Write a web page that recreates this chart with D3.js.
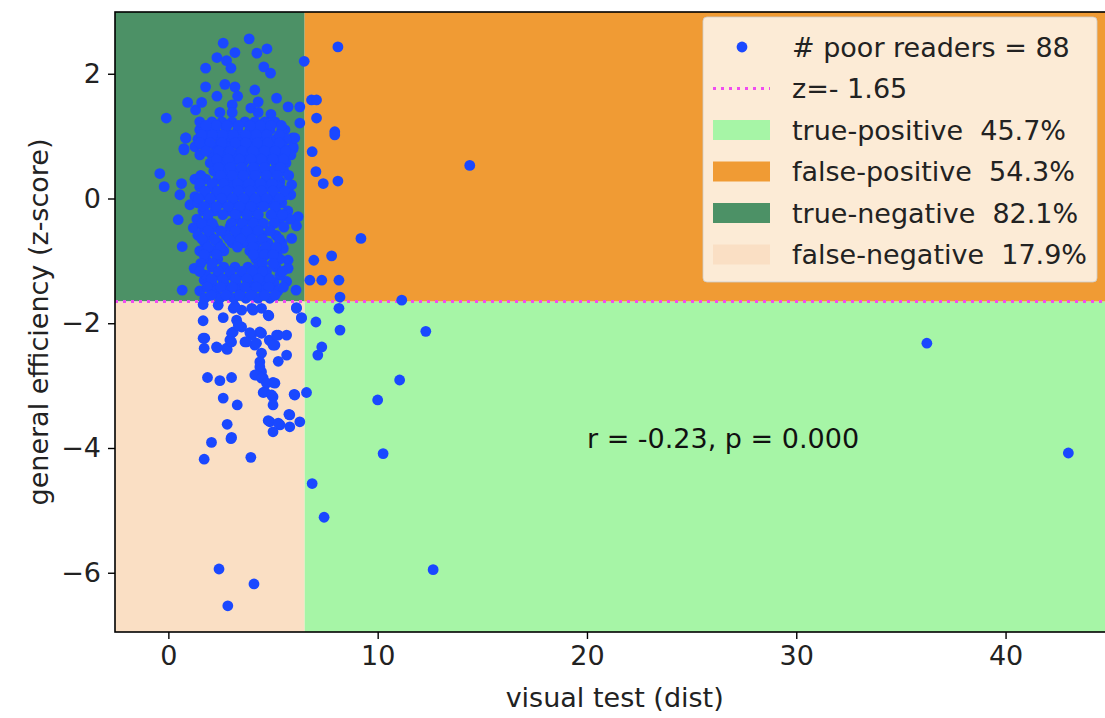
<!DOCTYPE html>
<html><head><meta charset="utf-8">
<script src="https://cdn.jsdelivr.net/npm/d3@7"></script>
<style>body{margin:0;background:#fff}text{font-family:"DejaVu Sans",sans-serif;white-space:pre}</style>
</head><body><svg id="c" width="1105" height="718"></svg>
<script>
// ---- data ----
const xTicks = [0, 10, 20, 30, 40];
const yTicks = [-6, -4, -2, 0, 2];
const xDomain = [-2.55, 45.2];
const yDomain = [-6.95, 2.99];
const cutX = 6.5;          // visual test cut-off
const cutZ = -1.65;        // z threshold
const legendLabels = ["# poor readers = 88", "z=- 1.65", "true-positive  45.7%", "false-positive  54.3%", "true-negative  82.1%", "false-negative  17.9%"];
const regionNames = ["true-positive", "false-positive", "true-negative", "false-negative"];
const statText = "r = -0.23, p = 0.000";
const statPos = [20, -4];
// sparse points (x = visual test, y = z-score)
const pointsX = [
 2.62,3.86,3.18,4.71,4.23,2.32,2.78,2.99,1.78,4.56,4.88,6.49,1.78,2.70,3.18,2.32,3.31,4.13,4.29,5.17,
 0.92,1.30,1.59,2.46,3.05,3.05,3.94,4.29,5.72,6.28,4.90,-0.10,6.84,0.84,6.28,5.93,5.96,0.74,1.50,1.98,
 0.82,0.75,-0.41,-0.20,0.63,0.55,1.27,1.03,5.17,5.33,5.89,5.85,6.04,5.96,5.57,
 0.47,1.19,0.66,1.23,0.66,1.71,6.20,6.12,5.89,5.49,5.17,5.72,5.72,5.65,4.61,4.69,4.29,6.10,
 1.66,1.66,1.66,1.71,2.30,2.62,2.38,2.78,2.94,3.10,3.10,3.50,3.50,3.98,3.66,3.98,4.37,4.13,4.45,4.37,4.45,4.77,4.93,5.09,5.25,5.65,5.65,5.25,6.12,6.36,4.45,
 1.74,2.33,2.81,3.02,3.02,3.26,3.34,4.05,3.18,4.80,4.45,3.89,3.74,4.21,4.82,5.17,5.00,4.37,4.21,4.53,5.00,4.61,5.00,5.00,
 1.87,2.46,3.02,2.62,3.29,2.81,3.02,2.06,6.04,6.28,5.80,5.80,5.33,4.85,5.00,6.36,6.12,4.13,4.45,4.69,5.09,4.53,4.93,6.01,4.77,5.25,5.76,2.99,1.71,3.94,
 2.42,4.09,2.84,
 8.10,7.08,7.08,7.95,7.95,6.87,7.05,7.40,8.10,6.95,7.80,6.76,7.33,8.15,8.20,14.40,9.20,11.15,
 7.05,8.15,8.20,7.33,7.14,6.60,6.87,7.44,10.26,10.00,11.05,12.30,12.65,36.24,43.00];
const pointsY = [
 2.49,2.56,2.34,2.40,2.33,2.26,2.21,2.09,2.09,2.11,2.01,2.20,1.79,1.83,1.79,1.64,1.64,1.74,1.55,1.61,
 1.54,1.42,1.54,1.38,1.50,1.38,1.45,1.38,1.47,1.47,1.35,1.29,1.58,0.97,1.21,0.97,0.83,0.80,1.10,1.02,
 0.97,0.78,0.40,0.19,0.24,0.06,0.03,-0.10,0.48,0.27,0.22,0.06,0.97,0.80,1.10,
 -0.34,-0.47,-0.77,-1.12,-1.47,-1.31,-0.29,-0.44,-0.64,-0.80,-0.88,-0.99,-1.12,-1.33,-0.91,-1.17,-1.33,-1.47,
 -1.70,-1.96,-2.24,-2.40,-2.38,-1.91,-1.71,-2.40,-2.27,-1.76,-2.14,-1.79,-2.06,-1.76,-2.30,-2.19,-2.14,-2.35,-2.48,-2.62,-2.78,-1.87,-2.30,-2.35,-2.19,-2.19,-2.51,-2.61,-1.75,-1.91,-1.76,
 -2.24,-2.39,-2.42,-2.16,-2.30,-1.95,-2.03,-1.79,-1.73,-1.88,-2.16,-2.15,-2.30,-2.32,-2.27,-2.19,-2.35,-2.70,-2.83,-2.88,-2.95,-3.10,-3.18,-3.31,
 -2.87,-2.92,-2.87,-3.20,-3.31,-3.62,-3.83,-3.91,-3.15,-3.58,-3.47,-3.66,-3.63,-3.58,-3.74,-1.92,-1.76,-2.83,-2.88,-2.96,-2.96,-3.11,-3.15,-3.14,-3.56,-3.60,-3.46,-3.85,-4.18,-4.15,
 -5.94,-6.18,-6.53,
 2.43,1.58,1.29,1.07,1.02,0.75,0.43,0.24,0.28,-0.99,-0.92,-1.31,-1.31,-1.31,-1.58,0.53,-0.64,-1.63,
 -1.98,-1.76,-2.11,-2.38,-2.51,-3.11,-4.57,-5.11,-4.09,-3.23,-2.91,-2.13,-5.95,-2.32,-4.08];
// dense core of the cloud, read row by row (z-score, then visual-test values)
const coreRowsY = [1.23,1.10,0.95,0.83,0.70,0.57,0.44,0.31,0.18,0.06,-0.07,-0.20,-0.33,-0.46,-0.59,-0.71,-0.84,-0.97,-1.10,-1.23,-1.35,-1.48,-1.60,
 1.17,1.02,0.89,0.76,0.63,0.50,0.37,0.24,0.12,0.00,-0.13,-0.26,-0.40,-0.52,-0.65,-0.78,-0.90,-1.04,-1.17,-1.29,-1.42,-1.55];
const coreRowsX = [
 [1.50,2.08,2.56,3.04,3.66,4.13,4.61,5.09],
 [1.74,2.22,2.75,3.32,3.89,4.37,4.85,5.42],
 [1.41,1.89,2.46,2.94,3.51,4.08,4.56,5.14,5.62],
 [1.27,1.74,2.27,2.84,3.42,3.89,4.47,4.95,5.47],
 [1.50,2.08,2.65,3.22,3.70,4.28,4.75,5.33,5.86],
 [2.00,2.56,3.04,3.56,4.13,4.61,5.14,5.62],
 [2.17,2.75,3.32,3.89,4.37,4.95,5.52],
 [1.27,1.79,2.36,2.94,3.51,4.08,4.66,5.23],
 [1.50,2.08,3.04,3.61,4.18,4.75,5.33],
 [1.74,2.27,2.75,3.32,3.89,4.47,5.04,5.62],
 [1.41,1.98,2.56,3.13,3.70,4.28,4.85,5.42],
 [1.65,2.22,2.94,3.51,4.08,5.14,5.71],
 [1.36,1.89,3.22,3.80,4.28,5.33,5.81],
 [1.65,2.17,2.94,3.51,4.08,5.52],
 [1.41,1.98,2.75,3.32,3.89,4.47,5.14],
 [1.74,2.36,3.04,3.61,4.18,4.75,5.42],
 [1.50,2.08,2.65,3.89,4.47,4.85],
 [1.79,2.36,4.18,5.33],
 [2.08,2.65,3.18,3.80,4.28,5.14],
 [1.79,2.36,2.94,3.51,4.08,4.66,5.33],
 [2.08,2.65,3.22,3.80,4.47,5.04],
 [1.50,2.27,2.84,3.42,3.99,4.56,5.23],
 [1.74,2.46,3.13,3.70,4.28,4.85],
 [1.80,2.30,2.80,3.35,3.90,4.40,4.90,5.40],
 [1.60,2.10,2.60,3.10,3.70,4.20,4.70,5.30],
 [1.50,2.00,2.55,3.20,3.70,4.25,4.75,5.30],
 [1.80,2.40,2.95,3.50,4.05,4.60,5.10,5.60],
 [2.30,2.85,3.40,3.95,4.45,5.00,5.50],
 [2.40,2.95,3.50,4.05,4.60,5.35],
 [1.55,2.50,3.05,3.60,4.15,4.70,5.20,5.75],
 [1.50,2.10,2.65,3.30,3.85,4.40,4.95],
 [1.75,2.35,2.80,3.35,3.90,4.45,5.00,5.55],
 [1.45,2.00,2.55,3.05,3.60,4.15,4.70,5.30],
 [1.70,2.30,2.85,3.40,3.95,4.55,5.10],
 [1.90,2.60,3.20,3.75,4.30,4.90,5.45],
 [1.60,2.10,3.00,3.55,4.05,4.55,5.05],
 [1.90,2.50,3.20,3.75,4.30,4.85],
 [1.60,2.20,2.90,3.45,4.00,4.50,5.30],
 [1.90,2.50,3.30,4.05,4.65,5.15],
 [1.70,2.30,4.05,4.60,5.00],
 [1.55,2.10,4.50,5.00],
 [1.50,2.40,2.95,3.50,4.00,4.50,5.45],
 [2.05,2.60,3.20,3.75,4.30,4.85],
 [1.85,2.50,3.05,3.65,4.20,4.80,5.50],
 [2.05,2.75,3.40,3.95,4.60,5.10]];

// ---- drawing ----
const svg = d3.select("#c");
const L = 115, T = 12, R = 1114.4, B = 632;
const x = d3.scaleLinear().domain(xDomain).range([L, R]);
const y = d3.scaleLinear().domain(yDomain).range([B, T]);
const colors = {"true-positive":"#a6f5a6","false-positive":"#f09b34","true-negative":"#4c9166","false-negative":"#fadfc4"};
const regionBounds = {
  "true-positive":[[cutX, xDomain[1]],[yDomain[0], cutZ]],
  "false-positive":[[cutX, xDomain[1]],[cutZ, yDomain[1]]],
  "true-negative":[[xDomain[0], cutX],[cutZ, yDomain[1]]],
  "false-negative":[[xDomain[0], cutX],[yDomain[0], cutZ]]};
svg.append("g").selectAll("rect").data(regionNames).join("rect")
  .attr("x", d => x(regionBounds[d][0][0])).attr("width", d => x(regionBounds[d][0][1]) - x(regionBounds[d][0][0]))
  .attr("y", d => y(regionBounds[d][1][1])).attr("height", d => y(regionBounds[d][1][0]) - y(regionBounds[d][1][1]))
  .attr("fill", d => colors[d]);

svg.append("line").attr("x1", x(xDomain[0])).attr("x2", x(xDomain[1])).attr("y1", y(cutZ)).attr("y2", y(cutZ))
  .attr("stroke", "#f04cf0").attr("stroke-width", 3).attr("stroke-dasharray", "3,5");

const pts = pointsX.map((v, i) => [v, pointsY[i]]);
coreRowsY.forEach((yy, i) => coreRowsX[i].forEach(xx => pts.push([xx, yy])));
svg.append("g").selectAll("circle").data(pts).join("circle")
  .attr("cx", d => x(d[0])).attr("cy", d => y(d[1])).attr("r", 5.4).attr("fill", "#1a48ff");

const fs = 27;
svg.append("text").attr("x", x(statPos[0])).attr("y", y(statPos[1])).attr("font-size", fs).attr("fill", "#111").text(statText);

// axes
const xa = svg.append("g").attr("transform", `translate(0,${B})`).call(d3.axisBottom(x).tickValues(xTicks).tickSize(7).tickPadding(7).tickFormat(d3.format("d")));
const ya = svg.append("g").attr("transform", `translate(${L},0)`).call(d3.axisLeft(y).tickValues(yTicks).tickSize(7).tickPadding(7).tickFormat(d => d < 0 ? "\u2212" + Math.abs(d) : d));
[xa, ya].forEach(a => { a.select(".domain").remove(); a.selectAll("line").attr("stroke", "#000").attr("stroke-width", 1.4); a.selectAll("text").attr("font-size", fs).attr("fill", "#222").style("font-family", "DejaVu Sans"); });
svg.append("rect").attr("x", L).attr("y", T).attr("width", R - L).attr("height", B - T).attr("fill", "none").attr("stroke", "#000").attr("stroke-width", 1.6);

svg.append("text").attr("x", (L + R) / 2).attr("y", 707).attr("text-anchor", "middle").attr("font-size", fs).attr("fill", "#222").text("visual test (dist)");
svg.append("text").attr("transform", `translate(40,${(T + B) / 2}) rotate(-90)`).attr("text-anchor", "middle").attr("dominant-baseline", "middle").attr("font-size", fs).attr("fill", "#222").text("general efficiency (z-score)");

// legend
const lg = svg.append("g");
lg.append("rect").attr("x", 703).attr("y", 17).attr("width", 394).attr("height", 265).attr("rx", 4)
  .attr("fill", "rgba(255,255,255,0.8)").attr("stroke", "rgba(204,204,204,0.8)");
const rowY = i => 47 + i * 41.5;
legendLabels.forEach((t, i) => {
  lg.append("text").attr("x", 792).attr("y", rowY(i)).attr("dominant-baseline", "central").attr("font-size", fs).attr("fill", "#222").text(t);
  if (i === 0) lg.append("circle").attr("cx", 742).attr("cy", rowY(i)).attr("r", 5.4).attr("fill", "#1a48ff");
  else if (i === 1) lg.append("line").attr("x1", 713).attr("x2", 770).attr("y1", rowY(i)).attr("y2", rowY(i)).attr("stroke", "#f04cf0").attr("stroke-width", 3).attr("stroke-dasharray", "3,5");
  else lg.append("rect").attr("x", 713).attr("y", rowY(i) - 10).attr("width", 57).attr("height", 20).attr("fill", colors[regionNames[i - 2]]);
});
</script></body></html>
